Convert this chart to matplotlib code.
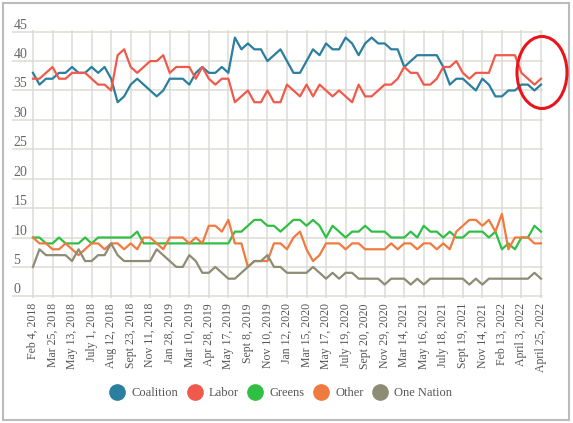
import numpy as np
import matplotlib
matplotlib.use("Agg")
import matplotlib.pyplot as plt
from matplotlib.lines import Line2D
from matplotlib.patches import Ellipse, Rectangle

# Newspoll primary vote, Feb 2018 - Apr 2022 (every 3rd poll labelled)
coalition = [38, 36, 37, 37, 38, 38, 39, 38, 38, 39, 38, 39, 37, 33, 34, 36, 37, 36, 35, 34, 35, 37, 37, 37, 36, 38, 39,
             38, 38, 39, 38, 44, 42, 43, 42, 42, 40, 41, 42, 40, 38, 38, 40, 42, 41, 43, 42, 42, 44, 43, 41, 43, 44, 43,
             43, 42, 42, 39, 40, 41, 41, 41, 41, 39, 36, 37, 37, 36, 35, 37, 36, 34, 34, 35, 35, 36, 36, 35, 36]
labor = [37, 37, 38, 39, 37, 37, 38, 38, 38, 37, 36, 36, 35, 41, 42, 39, 38, 39, 40, 40, 41, 38, 39, 39, 39, 37, 39,
         37, 36, 37, 37, 33, 34, 35, 33, 33, 35, 33, 33, 36, 35, 34, 36, 34, 36, 35, 34, 35, 34, 33, 36, 34, 34, 35,
         36, 36, 37, 39, 38, 38, 36, 36, 37, 39, 39, 40, 38, 37, 38, 38, 38, 41, 41, 41, 41, 38, 37, 36, 37]
greens = [10, 10, 9, 9, 10, 9, 9, 9, 10, 9, 10, 10, 10, 10, 10, 10, 11, 9, 9, 9, 9, 9, 9, 9, 9, 9, 9,
          9, 9, 9, 9, 11, 11, 12, 13, 13, 12, 12, 11, 12, 13, 13, 12, 13, 12, 10, 12, 11, 10, 11, 11, 12, 11, 11,
          11, 10, 10, 10, 11, 10, 12, 11, 11, 10, 11, 10, 10, 11, 11, 11, 10, 11, 8, 9, 8, 10, 10, 12, 11]
other = [10, 9, 9, 8, 8, 9, 8, 7, 8, 9, 9, 8, 9, 9, 8, 9, 8, 10, 10, 9, 8, 10, 10, 10, 9, 10, 9,
         12, 12, 11, 13, 9, 9, 5, 6, 6, 6, 9, 9, 8, 10, 11, 8, 6, 7, 9, 9, 9, 8, 9, 9, 8, 8, 8,
         8, 9, 8, 9, 9, 8, 9, 9, 8, 9, 8, 11, 12, 13, 13, 12, 13, 11, 14, 8, 10, 10, 10, 9, 9]
one_nation = [5, 8, 7, 7, 7, 7, 6, 8, 6, 6, 7, 7, 9, 7, 6, 6, 6, 6, 6, 8, 7, 6, 5, 5, 7, 6, 4,
              4, 5, 4, 3, 3, 4, 5, 6, 6, 7, 5, 5, 4, 4, 4, 4, 5, 4, 3, 4, 3, 4, 4, 3, 3, 3, 3,
              2, 3, 3, 3, 2, 3, 2, 3, 3, 3, 3, 3, 3, 2, 3, 2, 3, 3, 3, 3, 3, 3, 3, 4, 3]

date_labels = ["Feb 4, 2018", "Mar 25, 2018", "May 13, 2018", "July 1, 2018", "Aug 12, 2018",
               "Sept 23, 2018", "Nov 11, 2018", "Jan 28, 2019", "Mar 10, 2019", "Apr 28, 2019",
               "May 17, 2019", "Sept 8, 2019", "Nov 10, 2019", "Jan 12, 2020", "Mar 15, 2020",
               "May 17, 2020", "July 19, 2020", "Sept 20, 2020", "Nov 29, 2020", "Mar 14, 2021",
               "May 16, 2021", "July 18, 2021", "Sept 19, 2021", "Nov 14, 2021", "Feb 13, 2022",
               "April 3, 2022", "April 25, 2022"]

parties = ["Coalition", "Labor", "Greens", "Other", "One Nation"]
colors = ["#2a7f9e", "#f05a4c", "#30bf45", "#f07a3f", "#8e8c74"]
series = [coalition, labor, greens, other, one_nation]

plt.rcParams['font.family'] = ['Liberation Serif', 'DejaVu Serif']

W, H = 573, 423
fig = plt.figure(figsize=(W / 100, H / 100), dpi=100)

# axes box in pixels
left, right, top, bottom = 12, 543, 30.5, 297.5
ax = fig.add_axes([left / W, (H - bottom) / H, (right - left) / W, (bottom - top) / H])

x = np.arange(len(coalition))
for vals, c, name in zip(series, colors, parties):
    ax.plot(x, vals, color=c, lw=1.6, label=name, zorder=3)

ax.set_xlim(-3.22, 78.31)
ax.set_ylim(-0.2, 45.2)

ticks = x[::3]
ax.set_xticks(ticks)
ax.set_xticklabels(date_labels, rotation=90, fontsize=8.5, color="#555555")
ax.set_yticks(np.arange(0, 50, 5))
ax.set_yticklabels([str(v) for v in range(0, 50, 5)], fontsize=10, color="#666666")
ax.tick_params(axis='x', length=0, pad=4)
ax.tick_params(axis='y', length=0, pad=-1)
for lab in ax.get_yticklabels():
    lab.set_ha('left')
    lab.set_va('bottom')

ax.grid(True, color="#dddbd3", lw=1.1, zorder=0)
for s in ax.spines.values():
    s.set_visible(False)

handles = [Line2D([], [], marker='o', ls='none', ms=11, color=c, label=p)
           for c, p in zip(colors, parties)]
fig.legend(handles=handles, loc='center', bbox_to_anchor=(281 / W, 1 - 393 / H), ncol=5,
           frameon=False, handletextpad=0.55, columnspacing=0.7, handlelength=1.2,
           prop={'size': 9}, labelcolor="#555555")

# outer frame and red highlight
fig.patches.append(Rectangle((3, 3), W - 7, H - 6, transform=None, fill=False,
                             edgecolor="#bbbbbb", lw=1.5))
fig.patches.append(Ellipse((542, H - 72.5), 50, 72, transform=None, fill=False,
                           edgecolor="#e8161a", lw=2.2, zorder=10))

fig.savefig("out.png", dpi=100)
